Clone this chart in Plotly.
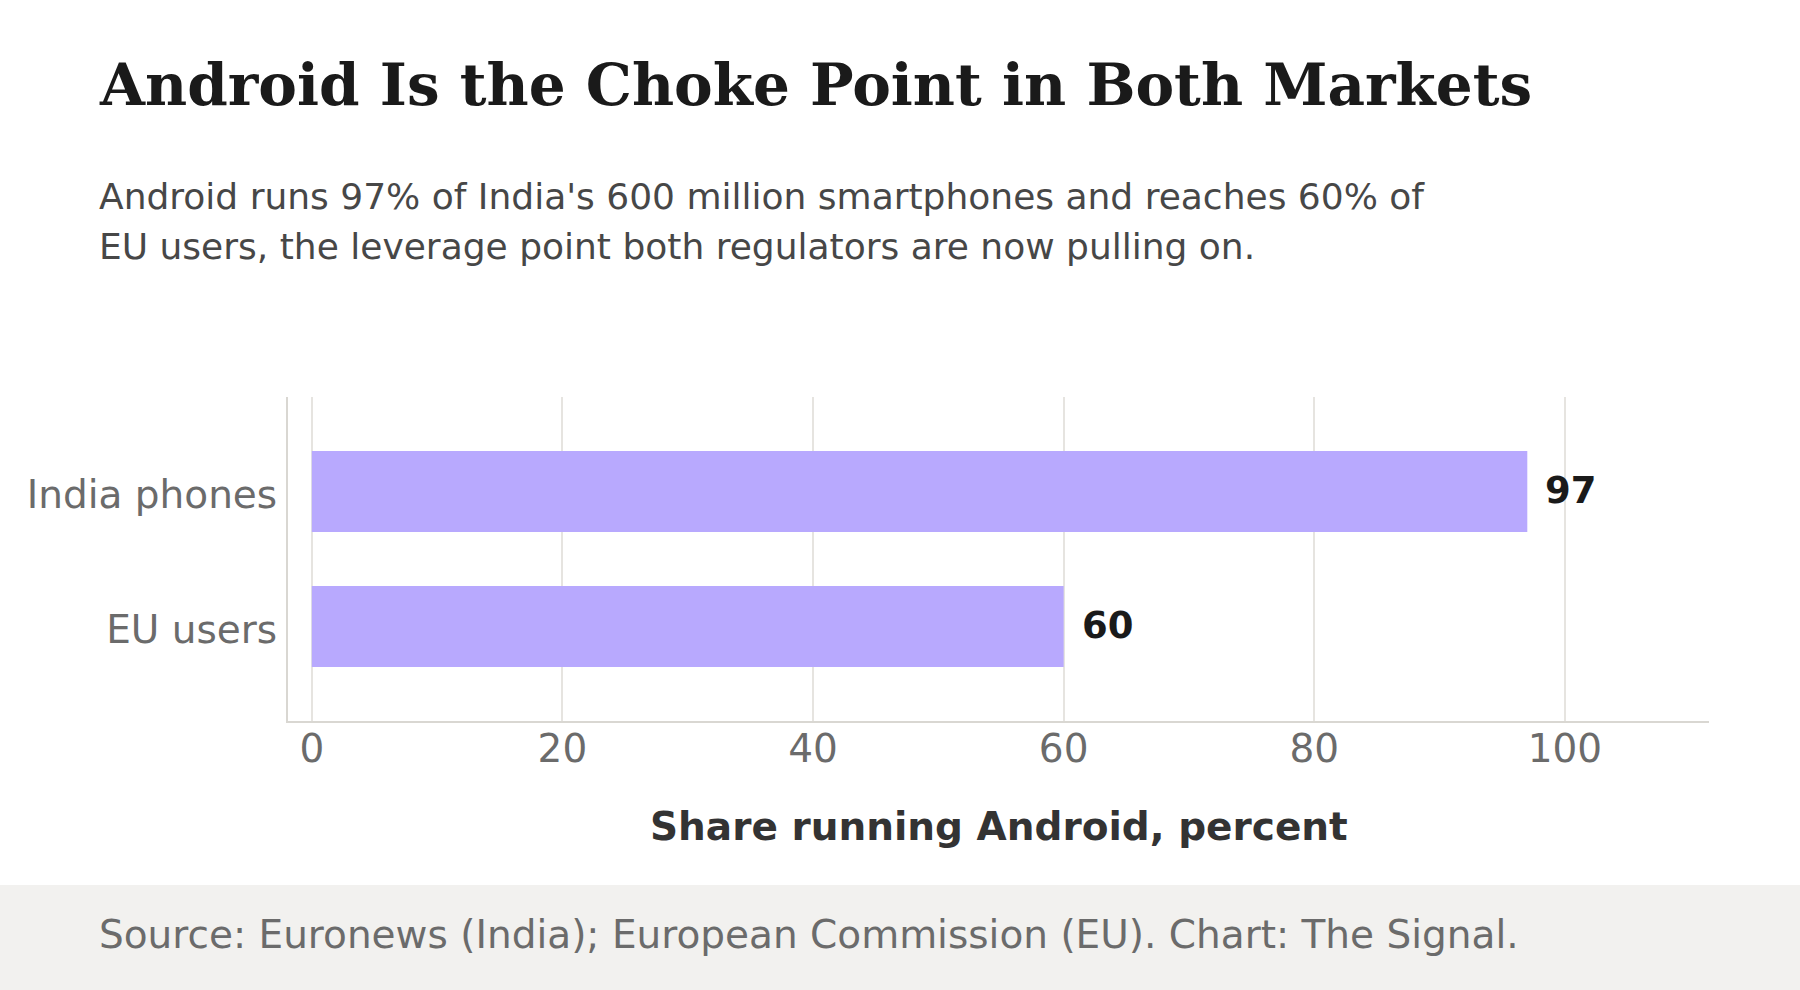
import plotly.graph_objects as go

categories = ["India phones", "EU users"]
values = [97, 60]
x_ticks = [0, 20, 40, 60, 80, 100]

title_text = "Android Is the Choke Point in Both Markets"
subtitle_lines = [
    "Android runs 97% of India's 600 million smartphones and reaches 60% of",
    "EU users, the leverage point both regulators are now pulling on.",
]
x_title = "Share running Android, percent"
source_text = "Source: Euronews (India); European Commission (EU). Chart: The Signal."

W, H = 1800, 990
L, R, T, B = 288, 91, 397, 269
PW = W - L - R
PH = H - T - B


def px(x):
    return (x - L) / PW


def py(y):
    return (H - B - y) / PH


fig = go.Figure()
fig.add_trace(go.Bar(
    x=values, y=categories, orientation="h",
    marker=dict(color="#b8a9fe", line=dict(width=0)),
    width=0.6, hoverinfo="skip",
))

annotations = []
for c, v in zip(categories, values):
    annotations.append(dict(
        x=v, y=c, xref="x", yref="y", text=f"<b>{v}</b>", showarrow=False,
        xanchor="left", yanchor="middle", xshift=16, yshift=1,
        font=dict(family="DejaVu Sans", size=37, color="#1a1a1a"),
    ))

annotations.append(dict(
    x=px(97), y=py(85), xref="paper", yref="paper", text=f"<b>{title_text}</b>",
    showarrow=False, xanchor="left", yanchor="middle",
    font=dict(family="DejaVu Serif", size=58, color="#1a1a1a"),
))
for i, line in enumerate(subtitle_lines):
    annotations.append(dict(
        x=px(97), y=py(197 + 50 * i), xref="paper", yref="paper",
        text=line,
        showarrow=False, xanchor="left", yanchor="middle", align="left",
        font=dict(family="DejaVu Sans", size=36, color="#474747"),
    ))
annotations.append(dict(
    x=px(999), y=py(826), xref="paper", yref="paper", text=f"<b>{x_title}</b>",
    showarrow=False, xanchor="center", yanchor="middle",
    font=dict(family="DejaVu Sans", size=39, color="#333333"),
))
annotations.append(dict(
    x=px(97), y=py(934), xref="paper", yref="paper", text=source_text,
    showarrow=False, xanchor="left", yanchor="middle",
    font=dict(family="DejaVu Sans", size=39, color="#6b6b6b"),
))

shapes = [dict(
    type="rect", xref="paper", yref="paper",
    x0=px(-5), x1=px(W + 5), y0=py(885), y1=py(H + 5),
    fillcolor="#f2f1ef", line=dict(width=0), layer="below",
)]

fig.update_layout(
    width=W, height=H,
    margin=dict(l=L, r=R, t=T, b=B, pad=0),
    paper_bgcolor="white", plot_bgcolor="white",
    showlegend=False,
    annotations=annotations, shapes=shapes,
    xaxis=dict(
        range=[-1.9, 111.5], tickvals=x_ticks, ticktext=[str(t) for t in x_ticks],
        showgrid=True, gridcolor="#e6e4e0", gridwidth=1.5, zeroline=False,
        showline=True, linecolor="#d9d7d2", linewidth=2,
        ticks="", ticklabelstandoff=-8,
        tickfont=dict(family="DejaVu Sans", size=39, color="#6b6b6b"),
        fixedrange=True,
    ),
    yaxis=dict(
        range=[1.7, -0.7], categoryorder="array", categoryarray=categories,
        showgrid=False, zeroline=False,
        showline=True, linecolor="#d9d7d2", linewidth=2,
        ticks="", ticklabelstandoff=1, ticklabelshift=-3,
        tickfont=dict(family="DejaVu Sans", size=39, color="#6b6b6b"),
        fixedrange=True,
    ),
)

fig.write_html("out.html", config={"displayModeBar": False})
